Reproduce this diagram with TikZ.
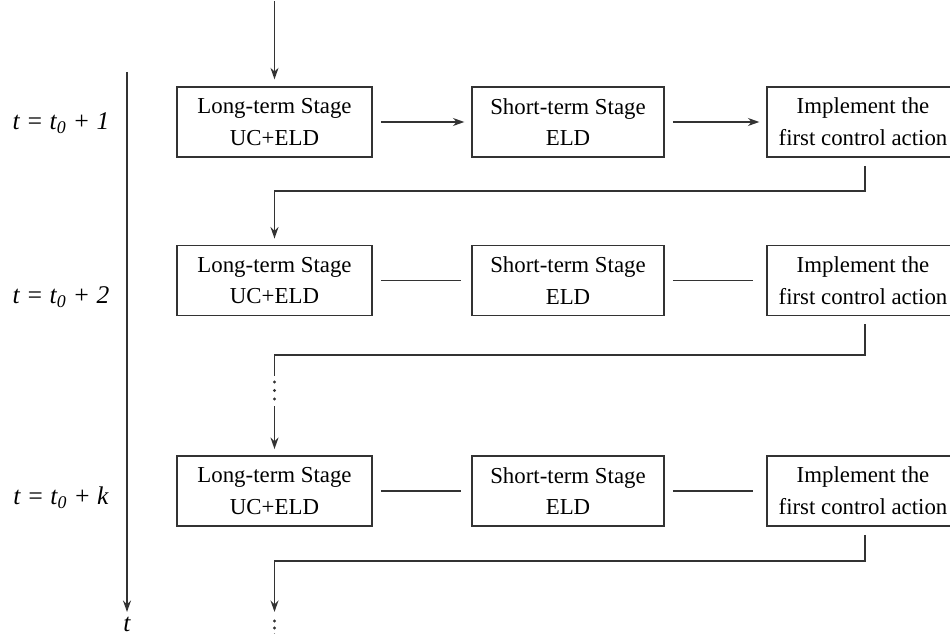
\documentclass[tikz,border=0pt]{standalone}
\usepackage{fontspec}
\setmainfont{Liberation Serif}
\usetikzlibrary{calc,arrows.meta}

\tikzset{
  stagebox/.style={draw=black!80, line width=1.1pt, minimum height=1.4cm, inner sep=0pt,
    align=center, font=\fontsize{13}{18}\selectfont},
  longbox/.style={stagebox, minimum width=3.9cm},
  shortbox/.style={stagebox, minimum width=3.84cm},
  implbox/.style={stagebox, minimum width=3.84cm},
  link/.style={draw=black!80, line width=1.1pt},
  arr/.style={link, -{Stealth[length=6.5pt, width=4.5pt]}},
  steplabel/.style={font=\fontsize{14.5}{17}\selectfont\itshape},
  dot/.style={fill=black!80},
}

\begin{document}
\begin{tikzpicture}[x=0.02cm, y=-0.02cm]
  \useasboundingbox (0,0) rectangle (950,634);

  % time axis
  \coordinate (ttop) at (127,72);
  \coordinate (tbot) at (127,612);
  \node[steplabel] (tlab) at (127,624) {t};
  \draw[arr] (ttop) -- (tbot);

  % step labels
  \node[steplabel] (lab1) at (61,123) {t = t\textsubscript{0} + 1};
  \node[steplabel] (lab2) at (61,297) {t = t\textsubscript{0} + 2};
  \node[steplabel] (lab3) at (61,498) {t = t\textsubscript{0} + k};

  % row 1
  \node[longbox]  (long1)  at (274.5,122) {Long-term Stage\\UC+ELD};
  \node[shortbox] (short1) at (568,122)   {Short-term Stage\\ELD};
  \node[implbox]  (impl1)  at (863,122)   {Implement the\\first control action};

  % row 2
  \node[longbox]  (long2)  at (274.5,280.5) {Long-term Stage\\UC+ELD};
  \node[shortbox] (short2) at (568,280.5)   {Short-term Stage\\ELD};
  \node[implbox]  (impl2)  at (863,280.5)   {Implement the\\first control action};

  % row 3
  \node[longbox]  (long3)  at (274.5,491) {Long-term Stage\\UC+ELD};
  \node[shortbox] (short3) at (568,491)   {Short-term Stage\\ELD};
  \node[implbox]  (impl3)  at (863,491)   {Implement the\\first control action};

  % entry arrow
  \coordinate (entry) at ($(long1.north)+(0,-85)$);
  \draw[arr, shorten >=3.8pt] (entry) -- (long1.north);

  % row connectors
  \draw[arr, shorten <=4.5pt, shorten >=3.8pt] (long1) -- (short1);
  \draw[arr, shorten <=4.5pt, shorten >=3.8pt] (short1) -- (impl1);
  \draw[link, shorten <=4.5pt, shorten >=5.5pt] (long2) -- (short2);
  \draw[link, shorten <=4.5pt, shorten >=7.5pt] (short2) -- (impl2);
  \draw[link, shorten <=4.5pt, shorten >=5.5pt] (long3) -- (short3);
  \draw[link, shorten <=4.5pt, shorten >=7.5pt] (short3) -- (impl3);

  % feedback from row 1 to row 2
  \draw[arr, shorten <=4.5pt, shorten >=3.4pt]
    ([xshift=1pt]impl1.south) -- ++(0,33) -| (long2.north);

  % feedback from row 2 to row 3, with skipped steps
  \coordinate (gapA) at ($(long3.north)+(0,-79)$);
  \draw[link, shorten <=4.5pt]
    ([xshift=1pt]impl2.south) |- ($(long3.north)+(0,-100)$) -- (gapA);
  \foreach \dy in {-73,-64.5,-56}
    \fill[dot] ($(long3.north)+(0,\dy)$) circle (0.9pt);
  \coordinate (gapB) at ($(long3.north)+(0,-49)$);
  \draw[arr, shorten >=3.4pt] (gapB) -- (long3.north);

  % feedback from row 3 onwards
  \coordinate (tail) at ($(long3.south)+(0,85)$);
  \draw[arr, shorten <=4.5pt]
    ([xshift=1pt]impl3.south) -- ++(0,34) -| (tail);
  \foreach \dy in {94,101,108}
    \fill[dot] ($(long3.south)+(0,\dy)$) circle (0.9pt);
\end{tikzpicture}
\end{document}
